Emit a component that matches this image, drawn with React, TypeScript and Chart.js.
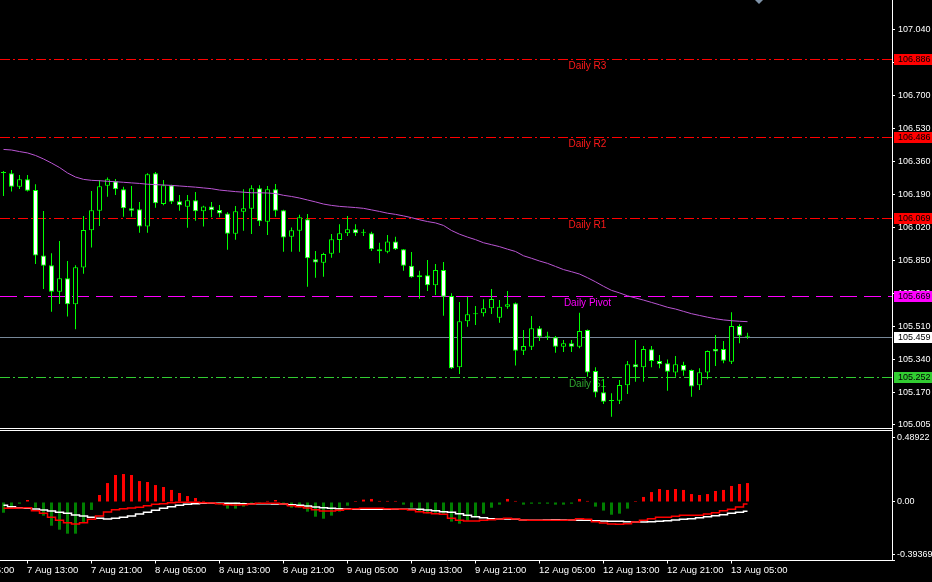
import React, { useEffect, useRef } from 'react';
import { Chart, registerables } from 'chart.js';

Chart.register(...registerables);

// ---------- DATA ----------
const opens = [106.301, 106.299, 106.230, 106.268, 106.213, 105.877, 105.826, 105.690, 105.759, 105.625,
  105.814, 106.006, 106.107, 106.235, 106.258, 106.217, 106.119, 106.114, 106.025, 106.299,
  106.141, 106.238, 106.155, 106.127, 106.160, 106.104, 106.129, 106.110, 106.093, 105.988,
  106.102, 106.117, 106.222, 106.050, 106.217, 106.109, 105.973, 106.004, 106.063, 105.857,
  105.839, 105.886, 105.956, 105.991, 106.011, 105.995, 105.991, 105.908, 105.896, 105.949,
  105.908, 105.824, 105.775, 105.775, 105.723, 105.802, 105.668, 105.301, 105.538, 105.575,
  105.579, 105.605, 105.556, 105.613, 105.631, 105.387, 105.407, 105.502, 105.459, 105.456,
  105.407, 105.425, 105.407, 105.493, 105.282, 105.173, 105.129, 105.129, 105.209, 105.317,
  105.301, 105.394, 105.334, 105.322, 105.274, 105.313, 105.287, 105.209, 105.274, 105.395,
  105.395, 105.330, 105.514, 105.460];
const highs = [106.311, 106.316, 106.290, 106.290, 106.243, 106.105, 105.888, 105.951, 105.848, 105.826,
  106.080, 106.208, 106.265, 106.277, 106.270, 106.230, 106.234, 106.152, 106.299, 106.306,
  106.265, 106.240, 106.188, 106.188, 106.203, 106.132, 106.152, 106.136, 106.099, 106.131,
  106.217, 106.238, 106.238, 106.234, 106.244, 106.112, 106.020, 106.086, 106.090, 105.900,
  105.891, 105.987, 106.037, 106.080, 106.037, 106.011, 105.999, 105.942, 105.982, 105.973,
  105.910, 105.894, 105.798, 105.853, 105.833, 105.843, 105.682, 105.637, 105.664, 105.617,
  105.651, 105.704, 105.648, 105.694, 105.634, 105.493, 105.565, 105.514, 105.484, 105.462,
  105.442, 105.442, 105.582, 105.496, 105.301, 105.240, 105.168, 105.236, 105.334, 105.442,
  105.411, 105.411, 105.365, 105.342, 105.359, 105.330, 105.290, 105.296, 105.388, 105.468,
  105.437, 105.584, 105.523, 105.479];
const lows = [106.183, 106.205, 106.218, 106.205, 105.833, 105.704, 105.587, 105.627, 105.562, 105.497,
  105.783, 105.917, 106.028, 106.179, 106.188, 106.076, 106.076, 105.994, 105.994, 106.122,
  106.135, 106.141, 106.107, 106.019, 106.055, 106.025, 106.073, 106.073, 105.906, 105.958,
  106.004, 105.987, 106.028, 105.982, 106.076, 105.896, 105.896, 105.896, 105.716, 105.762,
  105.767, 105.865, 105.891, 105.977, 105.977, 105.977, 105.900, 105.836, 105.888, 105.905,
  105.798, 105.762, 105.654, 105.694, 105.673, 105.567, 105.293, 105.267, 105.510, 105.519,
  105.562, 105.576, 105.531, 105.603, 105.310, 105.365, 105.390, 105.437, 105.442, 105.376,
  105.380, 105.380, 105.399, 105.253, 105.147, 105.112, 105.047, 105.112, 105.164, 105.227,
  105.227, 105.301, 105.296, 105.181, 105.253, 105.258, 105.150, 105.185, 105.240, 105.308,
  105.322, 105.318, 105.425, 105.448];
const closes = [106.306, 106.230, 106.268, 106.210, 105.877, 105.824, 105.690, 105.759, 105.625, 105.816,
  106.008, 106.109, 106.232, 106.268, 106.217, 106.119, 106.107, 106.025, 106.294, 106.145,
  106.238, 106.153, 106.135, 106.160, 106.104, 106.129, 106.109, 106.093, 105.988, 106.104,
  106.119, 106.222, 106.052, 106.217, 106.107, 105.969, 106.006, 106.073, 105.862, 105.841,
  105.884, 105.960, 105.991, 106.011, 105.991, 105.994, 105.908, 105.898, 105.949, 105.908,
  105.824, 105.764, 105.764, 105.723, 105.802, 105.664, 105.296, 105.538, 105.574, 105.574,
  105.605, 105.653, 105.613, 105.625, 105.387, 105.411, 105.502, 105.459, 105.458, 105.407,
  105.425, 105.407, 105.488, 105.274, 105.171, 105.124, 105.128, 105.210, 105.317, 105.301,
  105.395, 105.334, 105.317, 105.279, 105.317, 105.284, 105.202, 105.276, 105.385, 105.382,
  105.335, 105.514, 105.464, 105.459];
const maValues = [106.422, 106.419, 106.411, 106.404, 106.391, 106.373, 106.352, 106.329, 106.301, 106.280,
  106.268, 106.263, 106.261, 106.258, 106.256, 106.253, 106.250, 106.247, 106.243, 106.241,
  106.239, 106.237, 106.234, 106.231, 106.228, 106.224, 106.220, 106.213, 106.209, 106.205,
  106.202, 106.199, 106.199, 106.198, 106.195, 106.186, 106.180, 106.172, 106.162, 106.152,
  106.141, 106.134, 106.129, 106.126, 106.123, 106.119, 106.111, 106.103, 106.094, 106.088,
  106.080, 106.071, 106.060, 106.051, 106.044, 106.031, 106.005, 105.986, 105.971, 105.958,
  105.942, 105.932, 105.922, 105.909, 105.897, 105.875, 105.862, 105.848, 105.836, 105.820,
  105.804, 105.793, 105.781, 105.762, 105.741, 105.718, 105.697, 105.684, 105.669, 105.658,
  105.647, 105.635, 105.623, 105.610, 105.601, 105.589, 105.577, 105.568, 105.559, 105.551,
  105.545, 105.541, 105.538, 105.536];
const histValues = [-0.081, -0.043, -0.013, 0.015, -0.043, -0.103, -0.179, -0.209, -0.239, -0.239,
  -0.156, -0.060, 0.053, 0.143, 0.204, 0.211, 0.204, 0.158, 0.151, 0.128,
  0.113, 0.091, 0.068, 0.045, 0.030, 0.008, -0.013, -0.018, -0.050, -0.050,
  -0.035, -0.013, -0.013, 0.008, 0.015, -0.013, -0.043, -0.043, -0.073, -0.111,
  -0.126, -0.103, -0.073, -0.028, 0.005, 0.018, 0.023, 0.008, 0.008, 0.008,
  -0.020, -0.043, -0.073, -0.086, -0.081, -0.088, -0.148, -0.164, -0.141, -0.116,
  -0.088, -0.043, -0.020, 0.023, 0.008, -0.020, -0.013, -0.013, -0.013, -0.020,
  -0.020, -0.013, 0.023, 0.008, -0.035, -0.065, -0.096, -0.088, -0.050, 0.005,
  0.038, 0.075, 0.098, 0.091, 0.098, 0.091, 0.060, 0.053, 0.060, 0.083,
  0.091, 0.121, 0.136, 0.143];
const macdWhite = [-0.025, -0.035, -0.043, -0.048, -0.053, -0.060, -0.068, -0.078, -0.085, -0.098,
  -0.106, -0.115, -0.123, -0.128, -0.123, -0.115, -0.106, -0.091, -0.078, -0.063,
  -0.048, -0.035, -0.025, -0.017, -0.013, -0.010, -0.010, -0.010, -0.010, -0.010,
  -0.013, -0.013, -0.013, -0.013, -0.015, -0.015, -0.020, -0.025, -0.030, -0.038,
  -0.043, -0.048, -0.051, -0.053, -0.055, -0.055, -0.055, -0.055, -0.055, -0.055,
  -0.055, -0.055, -0.055, -0.060, -0.066, -0.073, -0.078, -0.088, -0.100, -0.111,
  -0.118, -0.126, -0.128, -0.128, -0.131, -0.136, -0.138, -0.138, -0.136, -0.134,
  -0.136, -0.136, -0.138, -0.138, -0.141, -0.143, -0.146, -0.146, -0.149, -0.151,
  -0.151, -0.149, -0.146, -0.141, -0.136, -0.131, -0.126, -0.118, -0.111, -0.103,
  -0.096, -0.085, -0.078, -0.070];
const macdRed = [-0.048, -0.048, -0.045, -0.043, -0.066, -0.085, -0.115, -0.138, -0.156, -0.166,
  -0.156, -0.131, -0.106, -0.075, -0.058, -0.051, -0.045, -0.040, -0.028, -0.017,
  -0.013, -0.005, -0.002, -0.002, -0.002, -0.005, -0.008, -0.013, -0.020, -0.023,
  -0.020, -0.015, -0.010, -0.010, -0.010, -0.015, -0.028, -0.035, -0.045, -0.058,
  -0.068, -0.068, -0.063, -0.055, -0.051, -0.048, -0.048, -0.048, -0.051, -0.053,
  -0.055, -0.060, -0.073, -0.081, -0.088, -0.093, -0.123, -0.138, -0.143, -0.143,
  -0.138, -0.134, -0.128, -0.123, -0.128, -0.136, -0.138, -0.138, -0.138, -0.138,
  -0.138, -0.136, -0.126, -0.131, -0.149, -0.158, -0.166, -0.168, -0.164, -0.151,
  -0.138, -0.126, -0.115, -0.115, -0.108, -0.100, -0.100, -0.100, -0.091, -0.081,
  -0.066, -0.055, -0.038, -0.015];

const priceTicks = [105.005, 105.170, 105.340, 105.510, 105.680, 105.850, 106.020, 106.190, 106.360, 106.530, 106.700, 106.870, 107.040];
const macdTicks = [-0.39369, 0, 0.48922];
const levelNames = ['Daily R3', 'Daily R2', 'Daily R1', 'Daily Pivot', 'Daily S1'];
const levelValues = [106.886, 106.486, 106.069, 105.669, 105.252];
const currentPrice = 105.459;
const levelLabelIndex = 73;
const timeTickIndex = [-5, 3, 11, 19, 27, 35, 43, 51, 59, 67, 75, 83, 91];
const timeTickLabels = ['7 Aug 05:00', '7 Aug 13:00', '7 Aug 21:00', '8 Aug 05:00', '8 Aug 13:00', '8 Aug 21:00',
  '9 Aug 05:00', '9 Aug 13:00', '9 Aug 21:00', '12 Aug 05:00', '12 Aug 13:00', '12 Aug 21:00', '13 Aug 05:00'];

// ---------- STYLE ----------
const X_MIN = -0.4375;
const X_MAX = 111.0625;
const PRICE_MIN = 104.989;
const PRICE_MAX = 107.1907;
const MACD_MIN = -0.43774;
const MACD_MAX = 0.5283;
const AXIS_W = 40;
const FONT = 'Liberation Sans, Arial, sans-serif';
const DASHDOT = [10, 3, 2, 3];
const levelStyles = [
  { color: '#ff0000', text: '#ff1a1a', box: '#ff0000', dash: DASHDOT },
  { color: '#ff0000', text: '#ff1a1a', box: '#ff0000', dash: DASHDOT },
  { color: '#ff0000', text: '#ff1a1a', box: '#ff0000', dash: DASHDOT },
  { color: '#ff00ff', text: '#ff00ff', box: '#ff00ff', dash: [17, 7] },
  { color: '#32cd32', text: '#2fa82f', box: '#32cd32', dash: DASHDOT },
];

const fitRightAxis = (scale: any) => {
  scale.width = AXIS_W;
  scale.paddingTop = 0;
  scale.paddingBottom = 0;
};

const xScale = { type: 'linear', min: X_MIN, max: X_MAX, display: false, offset: false, grace: 0 };

const mainOverlay = {
  id: 'mainOverlay',
  beforeDatasetsDraw(chart: any) {
    const { ctx, chartArea, scales } = chart;
    const xs = scales.x, ys = scales.y;
    ctx.save();
    ctx.beginPath();
    ctx.rect(chartArea.left, chartArea.top, chartArea.right - chartArea.left, chartArea.bottom - chartArea.top);
    ctx.clip();
    ctx.lineWidth = 1;
    const cp = Math.round(ys.getPixelForValue(currentPrice)) + 0.5;
    ctx.strokeStyle = '#778899';
    ctx.setLineDash([]);
    ctx.beginPath(); ctx.moveTo(chartArea.left, cp); ctx.lineTo(chartArea.right, cp); ctx.stroke();
    levelValues.forEach((v, k) => {
      const st = levelStyles[k];
      const py = Math.round(ys.getPixelForValue(v)) + 0.5;
      ctx.strokeStyle = st.color;
      ctx.setLineDash(st.dash);
      ctx.beginPath(); ctx.moveTo(chartArea.left, py); ctx.lineTo(chartArea.right, py); ctx.stroke();
      ctx.setLineDash([]);
      ctx.fillStyle = st.text;
      ctx.font = `10px ${FONT}`;
      ctx.textAlign = 'center';
      ctx.textBaseline = 'top';
      ctx.fillText(levelNames[k], xs.getPixelForValue(levelLabelIndex), py + 2);
    });
    ctx.restore();
  },
  afterDraw(chart: any) {
    const { ctx, chartArea, scales, width } = chart;
    const ys = scales.y;
    ctx.save();
    const boxes = levelValues.map((v, k) => ({ v, bg: levelStyles[k].box }));
    boxes.push({ v: currentPrice, bg: '#ffffff' });
    ctx.font = `9px ${FONT}`;
    ctx.textAlign = 'left';
    ctx.textBaseline = 'middle';
    boxes.forEach((b) => {
      const py = Math.round(ys.getPixelForValue(b.v));
      ctx.fillStyle = b.bg;
      ctx.fillRect(chartArea.right + 2, py - 5, width - chartArea.right - 2, 11);
      ctx.fillStyle = '#000000';
      ctx.fillText(b.v.toFixed(3), chartArea.right + 6, py + 0.5);
    });
    ctx.fillStyle = '#7f93a8';
    ctx.beginPath();
    ctx.moveTo(755, 0); ctx.lineTo(763, 0); ctx.lineTo(759, 4); ctx.closePath(); ctx.fill();
    ctx.restore();
  },
};

const macdOverlay = {
  id: 'macdOverlay',
  afterDraw(chart: any) {
    const { ctx, chartArea, scales } = chart;
    const xs = scales.x;
    ctx.save();
    const by = chartArea.bottom + 0.5;
    ctx.strokeStyle = '#ffffff';
    ctx.lineWidth = 1;
    ctx.beginPath(); ctx.moveTo(0, by); ctx.lineTo(chartArea.right + 3, by); ctx.stroke();
    ctx.font = `9.5px ${FONT}`;
    ctx.fillStyle = '#ffffff';
    ctx.textAlign = 'left';
    ctx.textBaseline = 'middle';
    timeTickIndex.forEach((idx, k) => {
      const px = xs.getPixelForValue(idx);
      ctx.beginPath(); ctx.moveTo(px, by); ctx.lineTo(px, by + 3); ctx.stroke();
      ctx.fillText(timeTickLabels[k], px - 0.5, chartArea.bottom + 10);
    });
    ctx.restore();
  },
};

export default function App() {
  const mainRef = useRef<HTMLCanvasElement>(null);
  const macdRef = useRef<HTMLCanvasElement>(null);

  useEffect(() => {
    document.body.style.margin = '0';
    document.body.style.background = '#000';
    const idx = closes.map((_, i) => i);

    const main = new Chart(mainRef.current as HTMLCanvasElement, {
      type: 'bar',
      data: {
        datasets: [
          {
            type: 'line',
            data: idx.map((i) => ({ x: i, y: maValues[i] })),
            borderColor: '#ba55d3',
            borderWidth: 1,
            pointRadius: 0,
            tension: 0,
            order: 0,
          } as any,
          {
            type: 'bar',
            data: idx.map((i) => ({ x: i, y: [opens[i], closes[i]] })),
            backgroundColor: idx.map((i) => (closes[i] > opens[i] ? '#000000' : '#ffffff')),
            borderColor: '#00ff00',
            borderWidth: 1,
            borderSkipped: false,
            barThickness: 5,
            minBarLength: 1,
            grouped: false,
            inflateAmount: 0,
            order: 1,
          } as any,
          {
            type: 'bar',
            data: idx.map((i) => ({ x: i, y: [lows[i], highs[i]] })),
            backgroundColor: '#00ff00',
            barThickness: 1,
            grouped: false,
            inflateAmount: 0,
            order: 2,
          } as any,
        ],
      },
      options: {
        animation: false,
        responsive: false,
        devicePixelRatio: 1,
        events: [],
        layout: { padding: 0 },
        plugins: { legend: { display: false }, tooltip: { enabled: false } },
        scales: {
          x: xScale,
          y: {
            type: 'linear',
            position: 'right',
            min: PRICE_MIN,
            max: PRICE_MAX,
            afterFit: fitRightAxis,
            afterBuildTicks: (s: any) => { s.ticks = priceTicks.map((v) => ({ value: v })); },
            grid: { drawOnChartArea: false, drawTicks: true, tickLength: 3, color: '#ffffff' },
            border: { display: true, color: '#ffffff' },
            ticks: {
              autoSkip: false,
              padding: 3,
              color: '#ffffff',
              font: { family: FONT, size: 9 },
              callback: (v: any) => Number(v).toFixed(3),
            },
          },
        },
      } as any,
      plugins: [mainOverlay],
    });

    const macd = new Chart(macdRef.current as HTMLCanvasElement, {
      type: 'bar',
      data: {
        datasets: [
          {
            type: 'line',
            data: idx.map((i) => ({ x: i, y: macdRed[i] })),
            borderColor: '#ff0000',
            borderWidth: 1.5,
            pointRadius: 0,
            stepped: 'middle',
            order: 0,
          } as any,
          {
            type: 'line',
            data: idx.map((i) => ({ x: i, y: macdWhite[i] })),
            borderColor: '#ffffff',
            borderWidth: 1.5,
            pointRadius: 0,
            stepped: 'middle',
            order: 1,
          } as any,
          {
            type: 'bar',
            data: idx.map((i) => ({ x: i, y: histValues[i] })),
            backgroundColor: idx.map((i) => (histValues[i] >= 0 ? '#ff0000' : '#008000')),
            barThickness: 3,
            minBarLength: 1,
            grouped: false,
            inflateAmount: 0,
            order: 2,
          } as any,
        ],
      },
      options: {
        animation: false,
        responsive: false,
        devicePixelRatio: 1,
        events: [],
        layout: { padding: { left: 0, right: 0, top: 0, bottom: 22 } },
        plugins: { legend: { display: false }, tooltip: { enabled: false } },
        scales: {
          x: xScale,
          y: {
            type: 'linear',
            position: 'right',
            min: MACD_MIN,
            max: MACD_MAX,
            afterFit: fitRightAxis,
            afterBuildTicks: (s: any) => { s.ticks = macdTicks.map((v) => ({ value: v })); },
            grid: { drawOnChartArea: false, drawTicks: true, tickLength: 3, color: '#ffffff' },
            border: { display: true, color: '#ffffff' },
            ticks: {
              autoSkip: false,
              padding: 2,
              color: '#ffffff',
              font: { family: FONT, size: 9 },
              callback: (v: any) => (Number(v) === 0 ? '0.00' : Number(v).toFixed(5)),
            },
          },
        },
      } as any,
      plugins: [macdOverlay],
    });

    return () => {
      main.destroy();
      macd.destroy();
    };
  }, []);

  return (
    <div style={{ position: 'relative', width: 932, height: 582, background: '#000', overflow: 'hidden' }}>
      <canvas ref={mainRef} width={932} height={428} style={{ position: 'absolute', left: 0, top: 0 }} />
      <div style={{ position: 'absolute', left: 0, top: 428, width: 893, height: 1, background: '#fff' }} />
      <div style={{ position: 'absolute', left: 0, top: 430, width: 893, height: 1, background: '#fff' }} />
      <div style={{ position: 'absolute', left: 892, top: 0, width: 1, height: 561, background: '#fff' }} />
      <canvas ref={macdRef} width={932} height={150} style={{ position: 'absolute', left: 0, top: 432 }} />
    </div>
  );
}
